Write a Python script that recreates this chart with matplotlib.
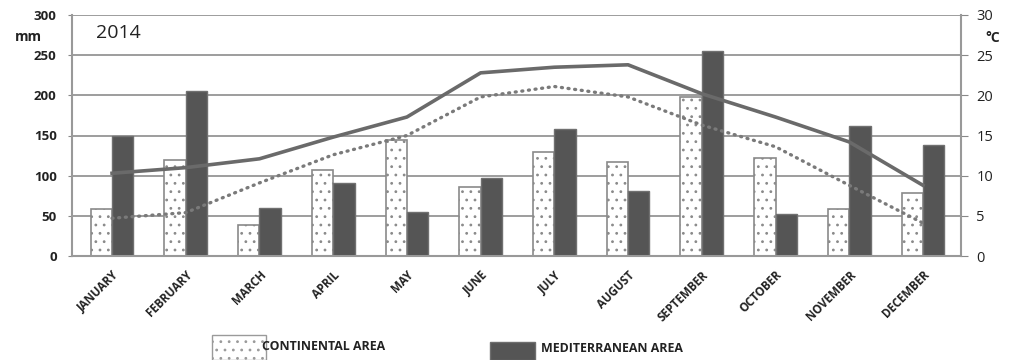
import matplotlib
matplotlib.use("Agg")
import matplotlib.pyplot as plt
from matplotlib.patches import Rectangle
import numpy as np

months = ["JANUARY", "FEBRUARY", "MARCH", "APRIL", "MAY", "JUNE", "JULY",
          "AUGUST", "SEPTEMBER", "OCTOBER", "NOVEMBER", "DECEMBER"]
rain_continental = [58, 119, 38, 107, 144, 86, 129, 117, 198, 122, 58, 78]
rain_mediterranean = [150, 206, 60, 91, 55, 97, 158, 81, 255, 52, 162, 138]
temp_continental = [4.7, 5.4, 9.1, 12.6, 15.0, 19.8, 21.1, 19.8, 16.3, 13.6, 8.8, 4.1]
temp_mediterranean = [10.3, 11.0, 12.1, 14.8, 17.3, 22.8, 23.5, 23.8, 20.2, 17.3, 14.2, 8.8]
left_ticks = [0, 50, 100, 150, 200, 250, 300]
right_ticks = [0, 5, 10, 15, 20, 25, 30]

plt.rcParams['hatch.color'] = '#8a8a8a'
plt.rcParams['hatch.linewidth'] = 0.8

fig = plt.figure(figsize=(10.13, 3.6), dpi=100)
ax = fig.add_axes([72/1013, 1-256/360, 889/1013, 241/360])
ax2 = ax.twinx()

x = np.arange(len(months))
w = 0.29
grid_c = '#8c8c8c'
for v in left_ticks[1:]:
    ax.axhline(v, color=grid_c, lw=1.2, zorder=0)

ax.bar(x - w/2, rain_continental, w, facecolor='white', edgecolor='#8a8a8a',
       lw=1.2, hatch='..', zorder=2)
ax.bar(x + w/2, rain_mediterranean, w, facecolor='#555555', edgecolor='#707070',
       lw=1.0, zorder=2)

ax2.plot(x, temp_mediterranean, color='#6a6a6a', lw=2.6, zorder=3)
ax2.plot(x, temp_continental, color='#7a7a7a', lw=2.4, linestyle=(0, (0.3, 1.7)),
         dash_capstyle='round', zorder=3)

ax.set_xlim(-0.543, 11.516)
ax.set_ylim(0, 300)
ax2.set_ylim(0, 30)
ax.set_yticks(left_ticks)
ax2.set_yticks(right_ticks)
ax.set_yticklabels([str(t) for t in left_ticks], fontsize=9.5, fontweight='bold',
                   family='Open Sans', color='#222222')
ax2.set_yticklabels([str(t) for t in right_ticks], fontsize=10.5,
                    family='Open Sans', color='#222222')
ax.set_xticks(x)
ax.set_xticklabels(months, rotation=45, ha='right', rotation_mode='anchor',
                   fontsize=8.3, fontweight='bold', family='Open Sans', color='#222222')
ax.tick_params(axis='x', length=0, pad=9)
ax.tick_params(axis='y', length=3, color='#888888', pad=8)
ax2.tick_params(axis='y', length=5, color='#888888', pad=6)

for a in (ax, ax2):
    a.spines['top'].set_visible(False)
    for s in ('left', 'right', 'bottom'):
        a.spines[s].set_color('#999999')
        a.spines[s].set_linewidth(1.5)
ax2.spines['left'].set_visible(False)
ax.spines['right'].set_visible(False)
ax2.spines['bottom'].set_visible(False)
ax.set_facecolor('none')

fig.text(28/1013, 1-37/360, "mm", fontsize=10, fontweight='bold', family='Open Sans',
         ha='center', va='center', color='#222222')
fig.text(993/1013, 1-38/360, "°C", fontsize=10, fontweight='bold', family='Open Sans',
         ha='center', va='center', color='#222222')
fig.text(96/1013, 1-33/360, "2014", fontsize=14, family='Open Sans',
         ha='left', va='center', color='#222222')

# legend
fig.patches.append(Rectangle((212/1013, 0), 54/1013, 25/360, transform=fig.transFigure,
                             facecolor='white', edgecolor='#9a9a9a', hatch='..', lw=1.0))
fig.text(262/1013, 1-347/360, "CONTINENTAL AREA", fontsize=8.9, fontweight='bold',
         family='Open Sans', ha='left', va='center', color='#222222')
fig.patches.append(Rectangle((490/1013, 0), 45/1013, 18/360, transform=fig.transFigure,
                             facecolor='#555555', edgecolor='#6e6e6e', lw=1.0))
fig.text(541/1013, 1-349/360, "MEDITERRANEAN AREA", fontsize=8.9, fontweight='bold',
         family='Open Sans', ha='left', va='center', color='#222222')

fig.savefig("out.png", dpi=100)
